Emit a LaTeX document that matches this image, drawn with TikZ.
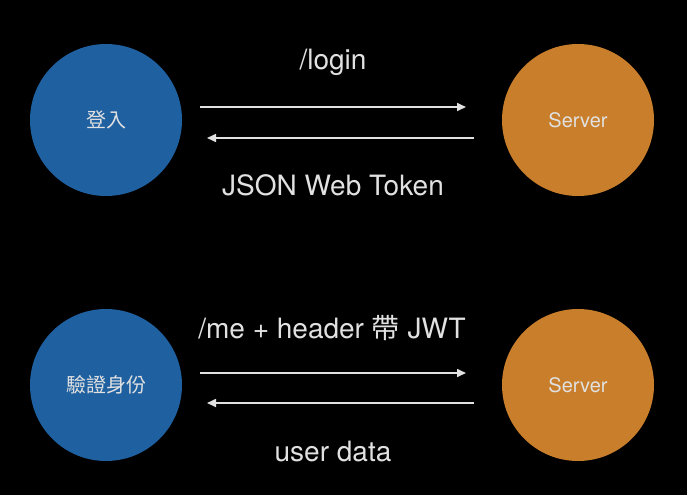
\documentclass[tikz,border=0pt]{standalone}
\usepackage{fontspec}
\setmainfont{TeX Gyre Heros}
\newfontfamily\cjk{Noto Sans CJK TC}
\usetikzlibrary{arrows.meta}
\definecolor{clientblue}{RGB}{31,96,160}
\definecolor{serverorange}{RGB}{200,126,42}
\definecolor{linegray}{RGB}{225,225,225}
\tikzset{
  client/.style={circle,fill=clientblue,minimum size=152pt,inner sep=0pt,text=linegray,font=\fontsize{20}{24}\selectfont},
  server/.style={circle,fill=serverorange,minimum size=152pt,inner sep=0pt,text=linegray,font=\fontsize{20}{24}\selectfont},
  msg/.style={draw=linegray,line width=1.6pt,-{Triangle[length=9pt,width=8pt]}},
  msglabel/.style={text=linegray,font=\fontsize{28}{32}\selectfont}
}
\begin{document}
\begin{tikzpicture}[x=1pt,y=-1pt]
  \fill[black] (0,0) rectangle (687,495);
  \useasboundingbox (0,0) rectangle (687,495);
  %CIRCLES
  \node[client] (login) at (106,120) {\cjk 登入};
  \node[server] (srvA) at (578,120) {Server};
  \node[client] (auth) at (106,385) {\cjk 驗證身份};
  \node[server] (srvB) at (578,385) {Server};
  %ARROWS, first exchange
  \coordinate (a1) at (200,107);
  \coordinate (a2) at (466,107);
  \coordinate (b1) at (474,138);
  \coordinate (b2) at (207,138);
  \draw[msg] (a1) -- (a2);
  \draw[msg] (b1) -- (b2);
  %ARROWS, second exchange
  \coordinate (c1) at (200,373);
  \coordinate (c2) at (466,373);
  \coordinate (d1) at (474,403);
  \coordinate (d2) at (207,403);
  \draw[msg] (c1) -- (c2);
  \draw[msg] (d1) -- (d2);
  %LABELS
  \node[msglabel] (reqA) at (333,62) {/login};
  \node[msglabel] (resA) at (333,185) {JSON Web Token};
  \node[msglabel] (reqB) at (332,328) {/me + header {\cjk 帶} JWT};
  \node[msglabel] (resB) at (333,451) {user data};
\end{tikzpicture}
\end{document}
